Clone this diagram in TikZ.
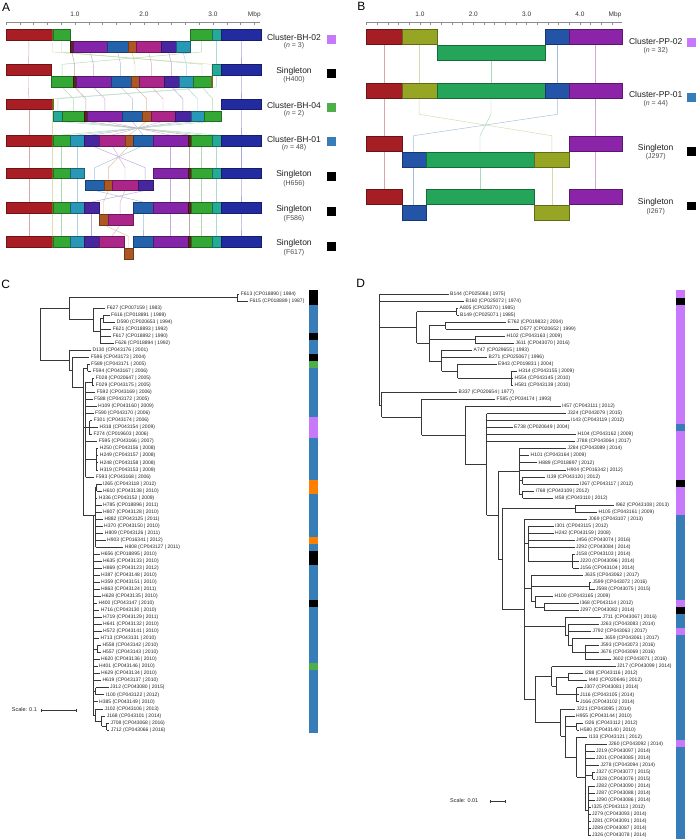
\documentclass[tikz,border=0pt]{standalone}
\usepackage{fontspec}
\setmainfont{Liberation Sans}
\definecolor{aR}{RGB}{168,30,36}
\definecolor{aO}{RGB}{175,165,45}
\definecolor{aG}{RGB}{52,168,52}
\definecolor{aT}{RGB}{40,152,182}
\definecolor{aT2}{RGB}{38,170,152}
\definecolor{aI}{RGB}{72,38,160}
\definecolor{aM}{RGB}{172,38,138}
\definecolor{aBr}{RGB}{172,88,36}
\definecolor{aB}{RGB}{36,98,172}
\definecolor{aP}{RGB}{132,36,168}
\definecolor{aS}{RGB}{90,40,25}
\definecolor{aN}{RGB}{34,44,160}
\definecolor{bR}{RGB}{165,30,36}
\definecolor{bO}{RGB}{150,165,36}
\definecolor{bG}{RGB}{36,165,90}
\definecolor{bB}{RGB}{36,84,168}
\definecolor{bP}{RGB}{140,36,170}
\definecolor{cLil}{RGB}{200,120,250}
\definecolor{cBlu}{RGB}{55,126,184}
\definecolor{cGrn}{RGB}{77,175,74}
\definecolor{cOrg}{RGB}{255,127,0}
\tikzset{
 tl/.style={line width=0.5pt, draw=black!78},
 leaf/.style={anchor=west, inner sep=0pt, font=\fontsize{5}{5}\selectfont, text=black!85},
 labone/.style={inner sep=0pt, font=\fontsize{8.5}{9}\selectfont, text=black!88},
 labtwo/.style={inner sep=0pt, font=\fontsize{7}{8}\selectfont, text=black!70},
 axl/.style={inner sep=0pt, font=\fontsize{6.5}{7}\selectfont, text=black!80},
 pletter/.style={inner sep=0pt, font=\fontsize{12}{12}\selectfont},
 scl/.style={anchor=west, inner sep=0pt, font=\fontsize{5.5}{6}\selectfont, text=black!85},
 axc/.style={draw=black!45, line width=0.5pt},
}
\newcommand\xsga[4]{\filldraw[fill=#4,draw=#4!65!black,line width=0.3pt] (#1,#3) rectangle (#2,#3+10.7);}
\newcommand\xsgb[4]{\filldraw[fill=#4,draw=#4!65!black,line width=0.3pt] (#1,#3) rectangle (#2,#3+15);}
\newcommand\xcn[7]{\draw[#7!40!white,line width=0.45pt] (#1,#2) -- (#1,#3) -- (#4,#5) -- (#4,#6);}
\newcommand\xvt[3]{\draw[tl] (#1,#2) -- (#1,#3);}
\newcommand\xbr[3]{\draw[tl] (#1,#3) -- (#2,#3);}
\newcommand\xlf[3]{\node[leaf] at (#1+1.5,#2) {#3};}
\newcommand\xcb[4]{\fill[#4] (#1,#2-0.5) rectangle (#1+8.8,#3+0.5);}
\newcommand\xleftA[1]{\xsga{6}{51.7}{#1}{aR}\xsga{51.7}{53.3}{#1}{aO}\xsga{53.3}{70}{#1}{aG}\xsga{70}{84.3}{#1}{aT}}
\newcommand\xrightA[1]{\xsga{152.7}{187.7}{#1}{aP}\xsga{187.7}{190.7}{#1}{aS}\xsga{190.7}{212.3}{#1}{aG}\xsga{212.3}{221}{#1}{aT2}\xsga{221}{261}{#1}{aN}}
\begin{document}
\begin{tikzpicture}[x=1pt,y=-1pt]
\useasboundingbox (0,0) rectangle (697,839);
\fill[white] (0,0) rectangle (697,839);
% ---------------- panel letters
\node[pletter] at (6.2,7.2) {A};
\node[pletter] at (361.3,6.7) {B};
\node[pletter] at (5.8,284.5) {C};
\node[pletter] at (360.8,283.7) {D};
% ---------------- panel A axis
\draw[axc] (6,22) -- (260,22);
\foreach \k in {0,...,18} \draw[axc] ({6+13.8*\k},22) -- ({6+13.8*\k},24.5);
\node[axl] at (75,14.7) {1.0};
\node[axl] at (144,14.7) {2.0};
\node[axl] at (213,14.7) {3.0};
\node[axl] at (254.3,14.7) {Mbp};
% ---------------- panel A connectors
% r1 -> r2
\xcn{28.85}{40}{52}{28.5}{64.3}{64.3}{aR}
\xcn{52.5}{40}{52}{211.5}{64.3}{76.3}{aO}
\xcn{61.5}{40}{52}{202}{64.3}{76.3}{aG}
\xcn{71.8}{52}{52}{74.65}{64.3}{76.3}{aS}
\xcn{90.3}{52}{52}{93.35}{64.3}{76.3}{aP}
\xcn{117.5}{52}{52}{120.7}{64.3}{76.3}{aB}
\xcn{131.85}{52}{52}{135}{64.3}{76.3}{aBr}
\xcn{148.65}{52}{52}{151.65}{64.3}{76.3}{aM}
\xcn{168.5}{52}{52}{171.65}{64.3}{76.3}{aI}
\xcn{183}{52}{52}{186.3}{64.3}{76.3}{aT}
\xcn{201.3}{40}{52}{62.15}{64.3}{76.3}{aG}
\xcn{216.65}{40}{52}{216.65}{64.3}{64.3}{aT2}
\xcn{241}{40}{52}{241}{64.3}{64.3}{aN}
% r2 -> r3
\xcn{28.5}{75}{87}{28.85}{98.7}{98.7}{aR}
\xcn{211.5}{87}{87}{52.5}{98.7}{98.7}{aO}
\xcn{202}{87}{87}{212.65}{98.7}{110.7}{aG}
\xcn{62.15}{87}{87}{73.3}{98.7}{110.7}{aG}
\xcn{74.65}{87}{87}{85.8}{98.7}{110.7}{aS}
\xcn{93.35}{87}{87}{104.8}{98.7}{110.7}{aP}
\xcn{120.7}{87}{87}{132.3}{98.7}{110.7}{aB}
\xcn{135}{87}{87}{146.65}{98.7}{110.7}{aBr}
\xcn{151.65}{87}{87}{163}{98.7}{110.7}{aM}
\xcn{171.65}{87}{87}{182.85}{98.7}{110.7}{aI}
\xcn{186.3}{87}{87}{197.5}{98.7}{110.7}{aT}
\xcn{216.65}{75}{87}{57.8}{98.7}{110.7}{aT2}
\xcn{241}{75}{87}{241}{98.7}{98.7}{aN}
% r3 -> r4
\xcn{28.85}{109.4}{121.4}{28.85}{135}{135}{aR}
\xcn{52.5}{109.4}{121.4}{52.5}{135}{135}{aO}
\xcn{57.8}{121.4}{121.4}{216.65}{135}{135}{aT2}
\xcn{73.3}{121.4}{121.4}{201.5}{135}{135}{aG}
\xcn{85.8}{121.4}{121.4}{189.2}{135}{135}{aS}
\xcn{104.8}{121.4}{121.4}{170.2}{135}{135}{aP}
\xcn{132.3}{121.4}{121.4}{143}{135}{135}{aB}
\xcn{146.65}{121.4}{121.4}{129.15}{135}{135}{aBr}
\xcn{163}{121.4}{121.4}{112.15}{135}{135}{aM}
\xcn{182.85}{121.4}{121.4}{91.8}{135}{135}{aI}
\xcn{197.5}{121.4}{121.4}{77.15}{135}{135}{aT}
\xcn{212.65}{121.4}{121.4}{61.65}{135}{135}{aG}
\xcn{241}{109.4}{121.4}{241}{135}{135}{aN}
% r4 -> r5
\foreach \x/\c in {28.85/aR,52.5/aO,61.65/aG,77.15/aT,170.2/aP,189.2/aS,201.5/aG,216.65/aT2,241/aN}
  {\xcn{\x}{145.7}{145.7}{\x}{167.7}{167.7}{\c}}
\xcn{91.8}{145.7}{145.7}{145.2}{167.7}{179.7}{aI}
\xcn{112.15}{145.7}{145.7}{125}{167.7}{179.7}{aM}
\xcn{129.15}{145.7}{145.7}{108.3}{167.7}{179.7}{aBr}
\xcn{143}{145.7}{145.7}{94.65}{167.7}{179.7}{aB}
% r5 -> r6
\foreach \x/\c in {28.85/aR,52.5/aO,61.65/aG,77.15/aT,170.2/aP,189.2/aS,201.5/aG,216.65/aT2,241/aN}
  {\xcn{\x}{178.4}{190.4}{\x}{202}{202}{\c}}
\xcn{94.65}{190.4}{190.4}{143}{202}{202}{aB}
\xcn{108.3}{190.4}{190.4}{103.5}{202}{214}{aBr}
\xcn{125}{190.4}{190.4}{120.2}{202}{214}{aM}
\xcn{145.2}{190.4}{190.4}{91.65}{202}{202}{aI}
% r6 -> r7
\foreach \x/\c in {28.85/aR,52.5/aO,61.65/aG,77.15/aT,170.2/aP,189.2/aS,201.5/aG,216.65/aT2,241/aN,91.7/aI,143/aB}
  {\xcn{\x}{212.7}{224.7}{\x}{236.3}{236.3}{\c}}
\xcn{103.5}{224.7}{224.7}{128.5}{236.3}{248.3}{aBr}
\xcn{120.2}{224.7}{224.7}{111.8}{236.3}{236.3}{aM}
% ---------------- panel A bars
% row 1
\xsga{6}{51.7}{29.3}{aR}\xsga{51.7}{53.3}{29.3}{aO}\xsga{53.3}{69.7}{29.3}{aG}
\xsga{190.3}{212.3}{29.3}{aG}\xsga{212.3}{221}{29.3}{aT2}\xsga{221}{261}{29.3}{aN}
\xsga{70.3}{73.3}{41.3}{aS}\xsga{73.3}{107.3}{41.3}{aP}\xsga{107.3}{127.7}{41.3}{aB}\xsga{127.7}{136}{41.3}{aBr}
\xsga{136}{161.3}{41.3}{aM}\xsga{161.3}{175.7}{41.3}{aI}\xsga{175.7}{190.3}{41.3}{aT}
% row 2
\xsga{6}{51}{64.3}{aR}\xsga{212.3}{221}{64.3}{aT2}\xsga{221}{261}{64.3}{aN}
\xsga{51}{73.3}{76.3}{aG}\xsga{73.3}{76}{76.3}{aS}\xsga{76}{110.7}{76.3}{aP}\xsga{110.7}{130.7}{76.3}{aB}
\xsga{130.7}{139.3}{76.3}{aBr}\xsga{139.3}{164}{76.3}{aM}\xsga{164}{179.3}{76.3}{aI}\xsga{179.3}{193.3}{76.3}{aT}
\xsga{193.3}{210.7}{76.3}{aG}\xsga{210.7}{212.3}{76.3}{aO}
% row 3
\xsga{6}{51.7}{98.7}{aR}\xsga{51.7}{53.3}{98.7}{aO}\xsga{221}{261}{98.7}{aN}
\xsga{53.3}{62.3}{110.7}{aT2}\xsga{62.3}{84.3}{110.7}{aG}\xsga{84.3}{87.3}{110.7}{aS}\xsga{87.3}{122.3}{110.7}{aP}
\xsga{122.3}{142.3}{110.7}{aB}\xsga{142.3}{151}{110.7}{aBr}\xsga{151}{175}{110.7}{aM}\xsga{175}{190.7}{110.7}{aI}
\xsga{190.7}{204.3}{110.7}{aT}\xsga{204.3}{221}{110.7}{aG}
% row 4
\xleftA{135}\xsga{84.3}{99.3}{135}{aI}\xsga{99.3}{125}{135}{aM}\xsga{125}{133.3}{135}{aBr}\xsga{133.3}{152.7}{135}{aB}\xrightA{135}
% row 5
\xleftA{167.7}\xrightA{167.7}
\xsga{85}{104.3}{179.7}{aB}\xsga{104.3}{112.3}{179.7}{aBr}\xsga{112.3}{137.7}{179.7}{aM}\xsga{137.7}{152.7}{179.7}{aI}
% row 6
\xleftA{202}\xsga{84.3}{99}{202}{aI}\xsga{133.3}{152.7}{202}{aB}\xrightA{202}
\xsga{99.3}{107.7}{214}{aBr}\xsga{107.7}{132.7}{214}{aM}
% row 7
\xleftA{236.3}\xsga{84.3}{99.3}{236.3}{aI}\xsga{99.3}{124.3}{236.3}{aM}\xsga{133.3}{152.7}{236.3}{aB}\xrightA{236.3}
\xsga{124.3}{132.7}{248.3}{aBr}
% ---------------- panel A labels
\node[labone] at (294,37) {Cluster-BH-02};
\node[labtwo] at (294,45.5) {(\textit{n} = 3)};
\fill[cLil] (326.7,34.8) rectangle (335.7,43.8);
\node[labone] at (294,71) {Singleton};
\node[labtwo] at (294,80) {(H400)};
\fill[black] (326.7,68.7) rectangle (335.7,77.7);
\node[labone] at (294,105) {Cluster-BH-04};
\node[labtwo] at (294,114) {(\textit{n} = 2)};
\fill[cGrn] (326.7,102.7) rectangle (335.7,111.7);
\node[labone] at (294,139.3) {Cluster-BH-01};
\node[labtwo] at (294,147.8) {(\textit{n} = 48)};
\fill[cBlu] (326.7,137) rectangle (335.7,146);
\node[labone] at (294,174.3) {Singleton};
\node[labtwo] at (294,183.3) {(H656)};
\fill[black] (326.7,172.2) rectangle (335.7,181.2);
\node[labone] at (294,209) {Singleton};
\node[labtwo] at (294,218.3) {(F586)};
\fill[black] (326.7,206.8) rectangle (335.7,215.8);
\node[labone] at (294,243.7) {Singleton};
\node[labtwo] at (294,252.7) {(F617)};
\fill[black] (326.7,241.5) rectangle (335.7,250.5);
% ---------------- panel B axis
\draw[axc] (366,22.3) -- (621.7,22.3);
\foreach \k in {0,...,23} \draw[axc] ({366.7+10.667*\k},22.3) -- ({366.7+10.667*\k},24.8);
\node[axl] at (420,14.7) {1.0};
\node[axl] at (473.3,14.7) {2.0};
\node[axl] at (526.7,14.7) {3.0};
\node[axl] at (580,14.7) {4.0};
\node[axl] at (615,14.7) {Mbp};
% ---------------- panel B connectors
\xcn{383.85}{44.3}{60.3}{383.85}{83.3}{83.3}{bR}
\xcn{419.2}{44.3}{60.3}{419.2}{83.3}{83.3}{bO}
\xcn{491}{60.3}{60.3}{491}{83.3}{83.3}{bG}
\xcn{557.3}{44.3}{60.3}{557.3}{83.3}{83.3}{bB}
\xcn{595.5}{44.3}{60.3}{595.5}{83.3}{83.3}{bP}
\xcn{383.85}{98.3}{114.3}{383.85}{135.7}{135.7}{bR}
\xcn{419.2}{98.3}{114.3}{551.8}{135.7}{151.7}{bO}
\xcn{491}{98.3}{114.3}{480}{135.7}{151.7}{bG}
\xcn{557.3}{98.3}{114.3}{413.7}{135.7}{151.7}{bB}
\xcn{595.5}{98.3}{114.3}{595.5}{135.7}{135.7}{bP}
\xcn{383.85}{151}{166.7}{383.85}{189.3}{189.3}{bR}
\xcn{413.7}{166.7}{166.7}{413.7}{189.3}{205}{bB}
\xcn{480}{166.7}{166.7}{480}{189.3}{189.3}{bG}
\xcn{551.8}{166.7}{166.7}{551.8}{189.3}{205}{bO}
\xcn{595.5}{151}{166.7}{595.5}{189.3}{189.3}{bP}
% ---------------- panel B bars
\xsgb{366}{401.7}{29}{bR}\xsgb{401.7}{436.7}{29}{bO}\xsgb{436.7}{545.3}{45.3}{bG}\xsgb{545.3}{569.3}{29}{bB}\xsgb{569.3}{621.7}{29}{bP}
\xsgb{366}{401.7}{83.3}{bR}\xsgb{401.7}{436.7}{83.3}{bO}\xsgb{436.7}{545.3}{83.3}{bG}\xsgb{545.3}{569.3}{83.3}{bB}\xsgb{569.3}{621.7}{83.3}{bP}
\xsgb{366}{401.7}{135.7}{bR}\xsgb{569.3}{621.7}{135.7}{bP}
\xsgb{401.7}{425.7}{151.7}{bB}\xsgb{425.7}{534.3}{151.7}{bG}\xsgb{534.3}{569.3}{151.7}{bO}
\xsgb{366}{401.7}{189.3}{bR}\xsgb{425.7}{534.3}{189.3}{bG}\xsgb{569.3}{621.7}{189.3}{bP}
\xsgb{401.7}{425.7}{205}{bB}\xsgb{534.3}{569.3}{205}{bO}
% ---------------- panel B labels
\node[labone] at (655.7,41.5) {Cluster-PP-02};
\node[labtwo] at (655.7,50.3) {(\textit{n} = 32)};
\fill[cLil] (687.3,38.3) rectangle (696,47);
\node[labone] at (655.7,94.3) {Cluster-PP-01};
\node[labtwo] at (655.7,103.3) {(\textit{n} = 44)};
\fill[cBlu] (687.3,93.3) rectangle (696,101.8);
\node[labone] at (655.7,148.3) {Singleton};
\node[labtwo] at (655.7,156.9) {(J297)};
\fill[black] (687.3,147) rectangle (696,155.5);
\node[labone] at (655.7,202.7) {Singleton};
\node[labtwo] at (655.7,211.5) {(I267)};
\fill[black] (687.3,201.5) rectangle (696,210);
% ---------------- panel C tree
\begin{scope}[shift={(0,294)},y=-7.03pt]
\xvt{40.3}{2.06}{9.4}\xbr{40.3}{69}{2.06}\xbr{40.3}{69}{9.4}
\xvt{69}{0.5}{3.625}\xbr{69}{237.3}{0.5}\xbr{69}{93.3}{3.625}
\xvt{237.3}{0}{1}\xbr{237.3}{239.2}{0}\xbr{237.3}{247.8}{1}
\xvt{93.3}{2}{5.25}\xbr{93.3}{105.2}{2}\xbr{93.3}{100}{5.25}
\xvt{100}{3.5}{7}\xbr{100}{103}{3.5}\xbr{100}{111.2}{5}\xbr{100}{111.2}{6}\xbr{100}{113.5}{7}
\xvt{103}{3}{4}\xbr{103}{109.5}{3}\xbr{103}{115.2}{4}
\xvt{69}{8}{10.8}\xbr{69}{90.8}{8}\xbr{69}{72.7}{10.8}
\xvt{72.7}{9}{13.3}\xbr{72.7}{89.2}{9}\xbr{72.7}{83}{13.3}
\xvt{83}{10.5}{31.5}\xbr{83}{87.5}{10.5}\xbr{83}{85.5}{19}\xbr{83}{93.3}{31.5}
\xvt{87.5}{10}{11}\xbr{87.5}{89.5}{10}\xbr{87.5}{91.2}{11}
\xvt{85.5}{12.5}{26}\xbr{85.5}{92}{12.5}\xbr{85.5}{95.2}{14}\xbr{85.5}{92.5}{15}\xbr{85.5}{96.5}{16}
\xbr{85.5}{93.5}{17}\xbr{85.5}{89.5}{19}\xbr{85.5}{97.2}{21}\xbr{85.5}{96.3}{23.5}\xbr{85.5}{94.2}{26}
\xvt{92}{12}{13}\xbr{92}{94.2}{12}\xbr{92}{94.2}{13}
\xvt{89.5}{18}{20}\xbr{89.5}{92.2}{18}\xbr{89.5}{97.8}{19}\xbr{89.5}{91.8}{20}
\xvt{96.3}{22}{25}\foreach \i in {22,23,24,25}{\xbr{96.3}{98.2}{\i}}
\xvt{93.3}{31.5}{59.875}\xbr{93.3}{95.7}{31.5}
\foreach \e/\i in {99.5/37,101.5/38,101.5/39,99.5/40,99.5/41,99.5/42,100.5/43,96.8/44,99.2/45,101.5/46,101.5/47,101.5/48,98.8/49,99.5/52,97.5/53,99.5/54,100.8/55,97.5/58}{\xbr{93.3}{\e}{\i}}
\xbr{93.3}{97}{50.5}\xbr{93.3}{95.7}{56.5}\xbr{93.3}{95.3}{59.875}
\xvt{95.7}{27.5}{36}\xbr{95.7}{96.5}{27.5}
\foreach \e/\i in {97.2/29,101.5/30,101.5/31,102.8/32,102.5/33,103.2/34,105.5/35,123.2/36}{\xbr{95.7}{\e}{\i}}
\xvt{96.5}{27}{28}\xbr{96.5}{101.5}{27}\xbr{96.5}{101.5}{28}
\xvt{97}{50}{51}\xbr{97}{100.8}{50}\xbr{97}{100.8}{51}
\xvt{95.7}{56}{57}\xbr{95.7}{108.5}{56}\xbr{95.7}{104.2}{57}
\xvt{95.3}{59}{60.75}\xbr{95.3}{102.8}{59}\xbr{95.3}{101.7}{60.75}
\xvt{101.7}{60}{61.5}\xbr{101.7}{105.2}{60}\xbr{101.7}{106.7}{61.5}
\xvt{106.7}{61}{62}\xbr{106.7}{108.8}{61}\xbr{106.7}{109.2}{62}
% labels C
\xlf{239.2}{0}{F613 (CP018890 | 1984)}
\xlf{247.8}{1}{F615 (CP018889 | 1987)}
\xlf{105.2}{2}{F627 (CP007159 | 1983)}
\xlf{109.5}{3}{F616 (CP018891 | 1989)}
\xlf{115.2}{4}{D590 (CP020653 | 1994)}
\xlf{111.2}{5}{F621 (CP018893 | 1992)}
\xlf{111.2}{6}{F617 (CP018892 | 1990)}
\xlf{113.5}{7}{F626 (CP018894 | 1992)}
\xlf{90.8}{8}{D130 (CP043176 | 2001)}
\xlf{89.2}{9}{F586 (CP043173 | 2004)}
\xlf{89.5}{10}{F589 (CP043171 | 2005)}
\xlf{91.2}{11}{F594 (CP043167 | 2006)}
\xlf{94.2}{12}{F028 (CP020647 | 2005)}
\xlf{94.2}{13}{F029 (CP043175 | 2005)}
\xlf{95.2}{14}{F592 (CP043169 | 2006)}
\xlf{92.5}{15}{F588 (CP043172 | 2005)}
\xlf{96.5}{16}{H109 (CP043160 | 2009)}
\xlf{93.5}{17}{F590 (CP043170 | 2006)}
\xlf{92.2}{18}{F301 (CP043174 | 2006)}
\xlf{97.8}{19}{H318 (CP043154 | 2009)}
\xlf{91.8}{20}{F274 (CP019603 | 2006)}
\xlf{97.2}{21}{F595 (CP043166 | 2007)}
\xlf{98.2}{22}{H250 (CP043156 | 2008)}
\xlf{98.2}{23}{H249 (CP043157 | 2008)}
\xlf{98.2}{24}{H248 (CP043158 | 2008)}
\xlf{98.2}{25}{H319 (CP043153 | 2009)}
\xlf{94.2}{26}{F593 (CP043168 | 2006)}
\xlf{101.5}{27}{I265 (CP043118 | 2012)}
\xlf{101.5}{28}{H610 (CP043138 | 2010)}
\xlf{97.2}{29}{H336 (CP043152 | 2009)}
\xlf{101.5}{30}{H785 (CP018896 | 2011)}
\xlf{101.5}{31}{H807 (CP043128 | 2010)}
\xlf{102.8}{32}{H882 (CP043125 | 2011)}
\xlf{102.5}{33}{H370 (CP043150 | 2010)}
\xlf{103.2}{34}{H809 (CP043126 | 2011)}
\xlf{105.5}{35}{H903 (CP016341 | 2012)}
\xlf{123.2}{36}{H808 (CP043127 | 2011)}
\xlf{99.5}{37}{H656 (CP018895 | 2010)}
\xlf{101.5}{38}{H635 (CP043133 | 2010)}
\xlf{101.5}{39}{H869 (CP043123 | 2012)}
\xlf{99.5}{40}{H387 (CP043148 | 2010)}
\xlf{99.5}{41}{H359 (CP043151 | 2010)}
\xlf{99.5}{42}{H863 (CP043124 | 2011)}
\xlf{100.5}{43}{H628 (CP043135 | 2010)}
\xlf{96.8}{44}{H400 (CP043147 | 2010)}
\xlf{99.2}{45}{H716 (CP043130 | 2010)}
\xlf{101.5}{46}{H719 (CP043129 | 2011)}
\xlf{101.5}{47}{H641 (CP043132 | 2010)}
\xlf{101.5}{48}{H572 (CP043141 | 2010)}
\xlf{98.8}{49}{H713 (CP043131 | 2010)}
\xlf{100.8}{50}{H558 (CP043142 | 2010)}
\xlf{100.8}{51}{H557 (CP043143 | 2010)}
\xlf{99.5}{52}{H620 (CP043136 | 2010)}
\xlf{97.5}{53}{H401 (CP043146 | 2010)}
\xlf{99.5}{54}{H629 (CP043134 | 2010)}
\xlf{100.8}{55}{H619 (CP043137 | 2010)}
\xlf{108.5}{56}{J312 (CP043080 | 2015)}
\xlf{104.2}{57}{I100 (CP043122 | 2012)}
\xlf{97.5}{58}{H385 (CP043149 | 2010)}
\xlf{102.8}{59}{J102 (CP043106 | 2013)}
\xlf{105.2}{60}{J168 (CP043101 | 2014)}
\xlf{108.8}{61}{J708 (CP043068 | 2016)}
\xlf{109.2}{62}{J712 (CP043066 | 2016)}
% colour bar C
\xcb{309}{0}{1}{black}\xcb{309}{2}{5}{cBlu}\xcb{309}{6}{6}{black}\xcb{309}{7}{8}{cBlu}
\xcb{309}{9}{9}{black}\xcb{309}{10}{10}{cGrn}\xcb{309}{11}{17}{cBlu}\xcb{309}{18}{20}{cLil}
\xcb{309}{21}{26}{cBlu}\xcb{309}{27}{28}{cOrg}\xcb{309}{29}{34}{cBlu}\xcb{309}{35}{35}{cOrg}
\xcb{309}{36}{36}{cBlu}\xcb{309}{37}{38}{black}\xcb{309}{39}{43}{cBlu}\xcb{309}{44}{44}{black}
\xcb{309}{45}{52}{cBlu}\xcb{309}{53}{53}{cGrn}\xcb{309}{54}{62}{cBlu}
\end{scope}
% scale C
\node[scl] at (11.7,710) {Scale: 0.1};
\draw[tl] (41.7,710) -- (76,710);
\draw[tl] (41.7,708.5) -- (41.7,711.5);
\draw[tl] (76,708.5) -- (76,711.5);
% ---------------- panel D tree
\begin{scope}[shift={(0,294)},y=-7.03pt]
\xvt{379.3}{0}{15.78}\xbr{379.3}{448.5}{0}\xbr{379.3}{464}{1}\xbr{379.3}{416.7}{4.75}\xbr{379.3}{381.7}{15.78}
\xvt{416.7}{2.5}{7}\xbr{416.7}{456.7}{2.5}\xbr{416.7}{429}{7}
\xvt{456.7}{2}{3}\xbr{456.7}{458}{2}\xbr{456.7}{458.5}{3}
\xvt{429}{4.5}{9.5}\xbr{429}{445.7}{4.5}\xbr{429}{475}{6.5}\xbr{429}{441.7}{9.5}
\xvt{445.7}{4}{5}\xbr{445.7}{506}{4}\xbr{445.7}{518.5}{5}
\xvt{475}{6}{7}\xbr{475}{505}{6}\xbr{475}{514}{7}
\xvt{441.7}{8}{11}\xbr{441.7}{472}{8}\xbr{441.7}{487}{9}\xbr{441.7}{457.7}{11}
\xvt{457.7}{10}{12}\xbr{457.7}{496.5}{10}\xbr{457.7}{511}{12}
\xvt{511}{11}{13}\xbr{511}{517}{11}\xbr{511}{513}{12}\xbr{511}{513}{13}
\xvt{381.7}{14}{17.56}\xbr{381.7}{457}{14}\xbr{381.7}{421.7}{17.56}
\xvt{421.7}{15}{20.1}\xbr{421.7}{495}{15}\xbr{421.7}{465}{20.1}
\xvt{465}{16}{24.23}\xbr{465}{560.5}{16}\xbr{465}{486.7}{24.23}
\xvt{486.7}{17}{31.46}\xbr{486.7}{566}{17}\xbr{486.7}{569.5}{18}\xbr{486.7}{512.5}{19}\xbr{486.7}{576}{20}\xbr{486.7}{575}{21}\xbr{486.7}{498.3}{31.46}
\xvt{498.3}{25.25}{37.67}\xbr{498.3}{519.3}{25.25}\xbr{498.3}{502.3}{37.67}
\xvt{519.3}{22}{28.5}\xbr{519.3}{566}{22}\xbr{519.3}{529}{23}\xbr{519.3}{537}{24}\xbr{519.3}{565.5}{25}\xbr{519.3}{522.7}{26.5}\xbr{519.3}{522.7}{28.5}
\xvt{522.7}{26}{27}\xbr{522.7}{545}{26}\xbr{522.7}{578.5}{27}
\xvt{522.7}{28}{29}\xbr{522.7}{534}{28}\xbr{522.7}{553}{29}
\xvt{502.3}{30.5}{44.84}\xbr{502.3}{575}{30.5}\xbr{502.3}{524}{44.84}
\xvt{575}{30}{31}\xbr{575}{614}{30}\xbr{575}{597}{31}
\xvt{524}{32}{57.67}\xbr{524}{587}{32}\xbr{524}{528.3}{35.5}\xbr{524}{531}{41.875}\xbr{524}{565}{47.25}\xbr{524}{535.3}{57.67}
\xvt{528.3}{33}{38}\xbr{528.3}{553.5}{33}\xbr{528.3}{553.5}{34}\xbr{528.3}{574.5}{35}\xbr{528.3}{574.5}{36}\xbr{528.3}{572.7}{38}
\xvt{572.7}{37}{39}\xbr{572.7}{574.5}{37}\xbr{572.7}{578.5}{38}\xbr{572.7}{578.5}{39}
\xvt{531}{40}{43.75}\xbr{531}{583}{40}\xbr{531}{589.3}{41.5}\xbr{531}{535}{43.75}
\xvt{589.3}{41}{42}\xbr{589.3}{591}{41}\xbr{589.3}{594.5}{42}
\xvt{535}{43}{44.5}\xbr{535}{553}{43}\xbr{535}{544.3}{44.5}
\xvt{544.3}{44}{45}\xbr{544.3}{578.5}{44}\xbr{544.3}{578.5}{45}
\xvt{565}{46}{48.5}\xbr{565}{601}{46}\xbr{565}{568.3}{48.5}
\xvt{568.3}{47}{50}\xbr{568.3}{599}{47}\xbr{568.3}{591}{48}\xbr{568.3}{572.7}{50}
\xvt{572.7}{49}{51}\xbr{572.7}{603}{49}\xbr{572.7}{585}{51}
\xvt{585}{50}{52}\xbr{585}{599}{50}\xbr{585}{599}{51}\xbr{585}{611}{52}
\xvt{535.3}{54.375}{60.97}\xbr{535.3}{551.7}{54.375}\xbr{535.3}{560.7}{60.97}
\xvt{551.7}{53}{55.75}\xbr{551.7}{615.5}{53}\xbr{551.7}{556}{55.75}
\xvt{556}{54.5}{57}\xbr{556}{568.3}{54.5}\xbr{556}{576.7}{57}
\xvt{568.3}{54}{55}\xbr{568.3}{583}{54}\xbr{568.3}{587}{55}
\xvt{576.7}{56}{58}\xbr{576.7}{582.5}{56}\xbr{576.7}{578.5}{57}\xbr{576.7}{578.5}{58}
\xvt{560.7}{59}{62.94}\xbr{560.7}{575}{59}\xbr{560.7}{565}{62.94}
\xvt{565}{60}{65.875}\xbr{565}{574.5}{60}\xbr{565}{576.7}{61.5}\xbr{565}{576.7}{65.875}
\xvt{576.7}{61}{62}\xbr{576.7}{583}{61}\xbr{576.7}{578.5}{62}
\xvt{576.7}{63}{68.75}\xbr{576.7}{587}{63}\xbr{576.7}{585}{68.75}
\xvt{585}{64}{73.5}\xbr{585}{607}{64}\xbr{585}{594.5}{65}\xbr{585}{594.5}{66}\xbr{585}{599}{67}\xbr{585}{592.7}{68.5}\xbr{585}{588.3}{73.5}
\xvt{592.7}{68}{69}\xbr{592.7}{594.5}{68}\xbr{592.7}{594.5}{69}
\xvt{588.3}{70}{77}\foreach \i in {70,71,72}{\xbr{588.3}{594.5}{\i}}\foreach \i in {73,...,77}{\xbr{588.3}{590.5}{\i}}
% labels D
\xlf{448.5}{0}{B144 (CP025068 | 1975)}
\xlf{464}{1}{B160 (CP025072 | 1974)}
\xlf{458}{2}{A805 (CP025070 | 1985)}
\xlf{458.5}{3}{B149 (CP025071 | 1985)}
\xlf{506}{4}{E762 (CP019832 | 2004)}
\xlf{518.5}{5}{D577 (CP020652 | 1999)}
\xlf{505}{6}{H102 (CP043163 | 2009)}
\xlf{514}{7}{J611 (CP043070 | 2016)}
\xlf{472}{8}{A747 (CP029655 | 1993)}
\xlf{487}{9}{B271 (CP025067 | 1996)}
\xlf{496.5}{10}{E943 (CP019831 | 2004)}
\xlf{517}{11}{H314 (CP043155 | 2009)}
\xlf{513}{12}{H554 (CP043145 | 2010)}
\xlf{513}{13}{H581 (CP043139 | 2010)}
\xlf{457}{14}{B337 (CP020654 | 1977)}
\xlf{495}{15}{F585 (CP034174 | 1993)}
\xlf{560.5}{16}{I457 (CP043111 | 2012)}
\xlf{566}{17}{J324 (CP043079 | 2015)}
\xlf{569.5}{18}{I143 (CP043119 | 2012)}
\xlf{512.5}{19}{E738 (CP020649 | 2004)}
\xlf{576}{20}{H104 (CP043162 | 2009)}
\xlf{575}{21}{J788 (CP043064 | 2017)}
\xlf{566}{22}{J284 (CP043089 | 2014)}
\xlf{529}{23}{H101 (CP043164 | 2009)}
\xlf{537}{24}{H889 (CP018897 | 2012)}
\xlf{565.5}{25}{H904 (CP016342 | 2012)}
\xlf{545}{26}{I139 (CP043120 | 2012)}
\xlf{578.5}{27}{I267 (CP043117 | 2012)}
\xlf{534}{28}{I768 (CP043109 | 2012)}
\xlf{553}{29}{I458 (CP043110 | 2012)}
\xlf{614}{30}{I962 (CP043108 | 2013)}
\xlf{597}{31}{H105 (CP043161 | 2009)}
\xlf{587}{32}{J069 (CP043107 | 2013)}
\xlf{553.5}{33}{I301 (CP043115 | 2012)}
\xlf{553.5}{34}{H242 (CP043159 | 2008)}
\xlf{574.5}{35}{J456 (CP043074 | 2016)}
\xlf{574.5}{36}{J292 (CP043084 | 2014)}
\xlf{574.5}{37}{J158 (CP043103 | 2014)}
\xlf{578.5}{38}{J220 (CP043096 | 2014)}
\xlf{578.5}{39}{J156 (CP043104 | 2014)}
\xlf{583}{40}{J635 (CP043062 | 2017)}
\xlf{591}{41}{J599 (CP043072 | 2016)}
\xlf{594.5}{42}{J598 (CP043075 | 2015)}
\xlf{553}{43}{H100 (CP043165 | 2009)}
\xlf{578.5}{44}{I368 (CP043114 | 2012)}
\xlf{578.5}{45}{J297 (CP043082 | 2014)}
\xlf{601}{46}{J711 (CP043067 | 2016)}
\xlf{599}{47}{J263 (CP043083 | 2014)}
\xlf{591}{48}{J792 (CP043063 | 2017)}
\xlf{603}{49}{J659 (CP043061 | 2017)}
\xlf{599}{50}{J593 (CP043073 | 2016)}
\xlf{599}{51}{J676 (CP043069 | 2016)}
\xlf{611}{52}{J602 (CP043071 | 2016)}
\xlf{615.5}{53}{J217 (CP043099 | 2014)}
\xlf{583}{54}{I288 (CP043116 | 2012)}
\xlf{587}{55}{I440 (CP020646 | 2012)}
\xlf{582.5}{56}{J307 (CP043081 | 2014)}
\xlf{578.5}{57}{J116 (CP043105 | 2014)}
\xlf{578.5}{58}{J166 (CP043102 | 2014)}
\xlf{575}{59}{J221 (CP043095 | 2014)}
\xlf{574.5}{60}{H955 (CP043144 | 2010)}
\xlf{583}{61}{I326 (CP043112 | 2012)}
\xlf{578.5}{62}{H580 (CP043140 | 2010)}
\xlf{587}{63}{I133 (CP043121 | 2012)}
\xlf{607}{64}{J260 (CP043092 | 2014)}
\xlf{594.5}{65}{J219 (CP043097 | 2014)}
\xlf{594.5}{66}{J201 (CP043085 | 2014)}
\xlf{599}{67}{J278 (CP043094 | 2014)}
\xlf{594.5}{68}{J327 (CP043077 | 2015)}
\xlf{594.5}{69}{J328 (CP043076 | 2015)}
\xlf{594.5}{70}{J282 (CP043090 | 2014)}
\xlf{594.5}{71}{J287 (CP043088 | 2014)}
\xlf{594.5}{72}{J290 (CP043086 | 2014)}
\xlf{590.5}{73}{I325 (CP043113 | 2012)}
\xlf{590.5}{74}{J279 (CP043093 | 2014)}
\xlf{590.5}{75}{J281 (CP043091 | 2014)}
\xlf{590.5}{76}{J289 (CP043087 | 2014)}
\xlf{590.5}{77}{J326 (CP043078 | 2014)}
% colour bar D
\xcb{676}{0}{0}{cLil}\xcb{676}{1}{1}{black}\xcb{676}{2}{18}{cLil}\xcb{676}{19}{19}{cBlu}
\xcb{676}{20}{26}{cLil}\xcb{676}{27}{27}{black}\xcb{676}{28}{31}{cLil}\xcb{676}{32}{43}{cBlu}
\xcb{676}{44}{44}{cLil}\xcb{676}{45}{45}{black}\xcb{676}{46}{47}{cBlu}\xcb{676}{48}{48}{cLil}
\xcb{676}{49}{63}{cBlu}\xcb{676}{64}{64}{cLil}\xcb{676}{65}{77}{cBlu}
\end{scope}
% scale D
\node[scl] at (450,801) {Scale: 0.01};
\draw[tl] (490,801) -- (505,801);
\draw[tl] (490,799.5) -- (490,802.5);
\draw[tl] (505,799.5) -- (505,802.5);
\end{tikzpicture}
\end{document}
